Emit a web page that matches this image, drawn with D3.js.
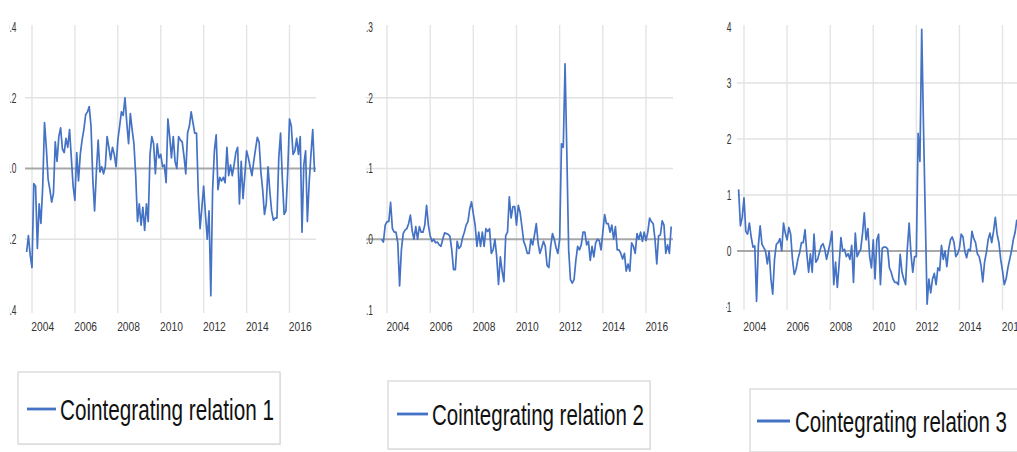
<!DOCTYPE html>
<html><head><meta charset="utf-8">
<script src="https://cdn.jsdelivr.net/npm/d3@7"></script>
<style>html,body{margin:0;padding:0;background:#fff;overflow:hidden}</style>
</head><body>
<svg id="chart" width="1017" height="452"></svg>
<script>
// Monthly cointegrating relations, first observation October 2003
const startYear = 2003.75;
const yearTicks = [2004, 2006, 2008, 2010, 2012, 2014, 2016];

const rel1 = [
 -0.236,-0.19,-0.245,-0.28,-0.043,-0.05,-0.226,-0.1,-0.155,-0.05,0.13,0.06,
 -0.03,-0.06,-0.095,-0.07,0.075,0.02,0.09,0.115,0.055,0.045,0.085,0.06,
 0.11,0.03,-0.05,-0.09,0.045,-0.035,0.04,0.08,0.11,0.152,0.16,0.175,
 0.12,-0.03,-0.12,-0.01,0.08,-0.01,0.005,-0.015,0.005,0.09,0.06,0.025,
 0.06,0.04,0.005,0.08,0.12,0.16,0.15,0.2,0.13,0.07,0.155,0.11,
 0.07,-0.02,-0.15,-0.1,-0.16,-0.11,-0.175,-0.1,-0.15,0.04,0.09,0.07,
 -0.015,0.07,0.03,0.04,0.005,0.01,-0.04,0.14,0.09,0.03,0.09,0.02,
 0.0,0.09,0.08,0.075,0.035,-0.015,0.1,0.12,0.16,0.13,0.1,0.1,
 -0.07,-0.17,-0.11,-0.05,-0.13,-0.2,-0.12,-0.36,-0.06,0.05,0.095,-0.06,
 -0.025,-0.035,-0.025,-0.04,0.06,-0.02,0.01,-0.02,0.01,0.045,0.06,-0.1,
 0.02,-0.085,-0.02,0.05,0.03,0.005,-0.02,0.02,0.055,0.088,0.075,-0.01,
 -0.06,-0.13,-0.1,0.005,-0.065,-0.12,-0.146,-0.14,-0.14,0.03,0.1,-0.03,
 -0.13,-0.12,-0.01,0.14,0.12,0.04,0.05,0.085,0.04,0.09,-0.18,0.01,
 0.05,-0.15,-0.04,0.04,0.11,-0.01
];

const rel2 = [
 0.0,-0.004,0.02,0.025,0.025,0.052,0.015,0.01,0.01,-0.005,-0.066,-0.015,
 0.008,0.013,0.015,0.022,0.034,0.012,0.0,0.018,0.0,0.018,0.01,0.01,
 0.02,0.048,0.02,0.005,-0.003,0.0,-0.005,-0.004,-0.008,-0.01,0.0,0.009,
 0.008,0.007,0.004,-0.015,-0.043,-0.043,-0.003,-0.013,-0.01,0.002,0.01,0.02,
 0.025,0.043,0.053,0.036,0.02,-0.01,0.01,-0.01,0.01,-0.01,0.015,0.011,
 0.015,-0.02,-0.015,0.0,-0.025,-0.064,-0.025,-0.045,-0.06,0.005,0.01,0.06,
 0.03,0.046,0.046,0.02,0.048,0.038,0.018,-0.003,-0.01,-0.02,-0.02,0.0,
 -0.008,0.006,0.022,-0.005,-0.02,-0.012,-0.003,-0.01,-0.037,-0.04,-0.01,0.008,
 0.0,-0.012,-0.02,0.0,0.135,0.13,0.248,0.12,-0.015,-0.057,-0.062,-0.057,
 -0.03,-0.01,-0.015,-0.008,0.01,0.01,-0.008,-0.003,-0.03,-0.01,-0.025,-0.005,
 0.0,-0.002,-0.015,0.01,0.035,0.022,0.022,0.01,0.02,0.0,0.018,-0.015,
 -0.015,-0.02,-0.028,-0.02,-0.045,-0.035,-0.045,-0.005,-0.01,-0.02,0.008,0.0,
 0.01,-0.003,0.01,-0.002,0.01,0.03,0.025,0.022,0.0,-0.035,0.005,0.006,
 0.026,0.02,-0.02,-0.008,-0.02,0.018
];

const rel3 = [
 1.1,0.45,0.6,0.95,0.35,0.3,0.5,0.25,0.07,0.09,-0.9,0.1,
 0.45,0.12,0.06,0.0,-0.23,0.0,-0.5,-0.77,-0.15,0.12,0.15,0.22,
 0.0,0.5,0.32,0.2,0.42,0.3,-0.15,-0.42,-0.33,-0.15,-0.03,0.15,
 0.15,0.38,-0.05,-0.38,-0.05,-0.38,0.3,-0.2,-0.15,-0.03,0.09,0.13,
 0.03,-0.15,0.0,0.15,0.35,-0.6,-0.2,-0.65,-0.23,0.24,0.0,0.03,
 -0.1,-0.05,-0.15,0.1,-0.56,0.32,-0.1,-0.03,0.03,0.3,0.68,0.2,
 0.4,-0.1,-0.3,0.2,-0.5,0.2,0.3,-0.6,0.05,0.07,0.07,0.04,
 -0.3,-0.38,-0.5,-0.56,-0.56,-0.6,-0.06,-0.38,-0.5,-0.6,0.05,0.5,
 -0.05,-0.38,-0.1,-0.1,2.1,1.6,3.96,2.2,0.6,-0.95,-0.5,-0.75,
 -0.5,-0.4,-0.6,-0.3,-0.35,0.1,-0.15,0.0,-0.28,0.03,0.2,0.25,
 0.15,-0.1,-0.05,0.05,0.3,0.25,0.0,-0.12,0.03,0.0,0.35,0.22,
 0.15,-0.05,-0.1,-0.25,-0.55,-0.2,-0.03,0.2,0.32,0.15,0.35,0.6,
 0.3,0.15,-0.15,-0.35,-0.6,-0.5,-0.3,-0.15,0.0,0.2,0.33,0.56
];

const yTicks1 = [-0.4, -0.2, 0, 0.2, 0.4];
const yTicks2 = [-0.1, 0, 0.1, 0.2, 0.3];
const yTicks3 = [-1, 0, 1, 2, 3, 4];
const seriesNames = ["Cointegrating relation 1", "Cointegrating relation 2", "Cointegrating relation 3"];

const LINE = "#4472c4";
const svg = d3.select("#chart");

// Layout of each small multiple; each panel is clipped to its own frame
const panels = [
  { values: rel1, ticks: yTicks1, domain: [-0.4, 0.4], fmt: d3.format(".1f"),
    xa: 32, xb: 289.5, yTop: 27, yBot: 310, gl: 25, gr: 316, lab: 16.5,
    clip: [9.6, 0, 340, 345],
    legend: { x: 18, y: 372, w: 262, h: 72, ly: 409, lx0: 27, lx1: 56, tx: 60, tw: 214 } },
  { values: rel2, ticks: yTicks2, domain: [-0.1, 0.3], fmt: d3.format(".1f"),
    xa: 387, xb: 646, yTop: 27, yBot: 310, gl: 365, gr: 673, lab: 373,
    clip: [366.2, 0, 336, 345],
    legend: { x: 388, y: 381, w: 262, h: 68, ly: 414, lx0: 397, lx1: 428, tx: 432, tw: 212 } },
  { values: rel3, ticks: yTicks3, domain: [-1, 4], fmt: d3.format("d"),
    xa: 744, xb: 1002.5, yTop: 27, yBot: 307, gl: 737, gr: 1030, lab: 731.5,
    clip: [726, 0, 300, 345],
    legend: { x: 750, y: 389, w: 280, h: 63, ly: 421, lx0: 757, lx1: 790, tx: 795, tw: 212 } }
];

// horizontally condense a text element about its anchor point
function squeeze(node, sx) {
  const x = +node.getAttribute("x"), y = +node.getAttribute("y");
  node.setAttribute("transform", `translate(${x},${y}) scale(${sx},1) translate(${-x},${-y})`);
}

panels.forEach((p, i) => {
  const x = d3.scaleLinear().domain([2004, 2016]).range([p.xa, p.xb]);
  const y = d3.scaleLinear().domain(p.domain).range([p.yBot, p.yTop]);
  const id = "clip" + i;
  svg.append("clipPath").attr("id", id).append("rect")
    .attr("x", p.clip[0]).attr("y", p.clip[1]).attr("width", p.clip[2]).attr("height", p.clip[3]);
  const g = svg.append("g").attr("clip-path", `url(#${id})`);

  // vertical year gridlines
  g.append("g").selectAll("line").data(yearTicks).join("line")
    .attr("x1", d => x(d)).attr("x2", d => x(d))
    .attr("y1", p.yTop - 2).attr("y2", p.yBot + 3)
    .attr("stroke", "#e4e4e4").attr("stroke-width", 1.4);

  // horizontal gridlines for interior ticks, zero line darker
  const inner = p.ticks.filter(t => t > p.domain[0] && t < p.domain[1]);
  g.append("g").selectAll("line").data(inner).join("line")
    .attr("x1", p.gl).attr("x2", p.gr)
    .attr("y1", d => y(d)).attr("y2", d => y(d))
    .attr("stroke", d => d === 0 ? "#a8a8a8" : "#e2e2e2")
    .attr("stroke-width", d => d === 0 ? 2 : 1.6);

  // y tick labels
  g.append("g").selectAll("text").data(p.ticks).join("text")
    .attr("x", p.lab).attr("y", d => y(d))
    .attr("text-anchor", "end").attr("dominant-baseline", "central")
    .attr("font-family", "Liberation Sans, Arial, sans-serif").attr("font-size", 14.5)
    .attr("fill", "#333")
    .text(d => p.fmt(d).replace("-", "\u2212"))
    .each(function () { squeeze(this, 0.58); });

  // x tick labels, centred in the labelled year
  g.append("g").selectAll("text").data(yearTicks).join("text")
    .attr("x", d => x(d + 0.5)).attr("y", 327)
    .attr("text-anchor", "middle").attr("dominant-baseline", "central")
    .attr("font-family", "Liberation Sans, Arial, sans-serif").attr("font-size", 12.5)
    .attr("fill", "#333")
    .text(d => d)
    .each(function () { squeeze(this, 0.82); });

  // series line
  const line = d3.line()
    .x((d, k) => x(startYear + k / 12))
    .y(d => y(d));
  g.append("path").datum(p.values)
    .attr("d", line)
    .attr("fill", "none").attr("stroke", LINE)
    .attr("stroke-width", 1.7).attr("stroke-linejoin", "round");

  // legend box
  const L = p.legend;
  const lg = svg.append("g");
  lg.append("rect").attr("x", L.x + 1).attr("y", L.y + 1).attr("width", L.w).attr("height", L.h)
    .attr("fill", "#ececec");
  lg.append("rect").attr("x", L.x).attr("y", L.y).attr("width", L.w).attr("height", L.h)
    .attr("fill", "#fff").attr("stroke", "#d4d4d4").attr("stroke-width", 1.2);
  lg.append("line").attr("x1", L.lx0).attr("x2", L.lx1).attr("y1", L.ly).attr("y2", L.ly)
    .attr("stroke", LINE).attr("stroke-width", 2.8);
  lg.append("text").attr("x", L.tx).attr("y", L.ly + 1)
    .attr("dominant-baseline", "central")
    .attr("font-family", "Liberation Sans, Arial, sans-serif").attr("font-size", 29)
    .attr("fill", "#111")
    .text(seriesNames[i])
    .each(function () { squeeze(this, L.tw / this.getComputedTextLength()); });
});
</script>
</body></html>
